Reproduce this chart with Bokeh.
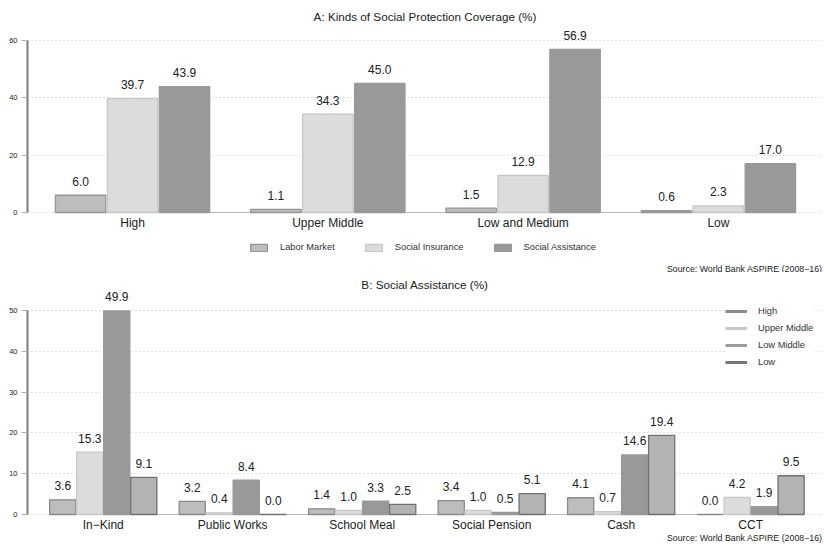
from bokeh.plotting import figure
from bokeh.models import (Range1d, FixedTicker, ColumnDataSource, LabelSet,
                          Legend, LegendItem, Label)
from bokeh.core.properties import value
from bokeh.layouts import column
from bokeh.embed import file_html
from bokeh.resources import INLINE

FONT = "Liberation Sans"

# ---------------- data ----------------
a_title = "A: Kinds of Social Protection Coverage (%)"
a_groups = ["High", "Upper Middle", "Low and Medium", "Low"]
a_series = ["Labor Market", "Social Insurance", "Social Assistance"]
a_labor = [6.0, 1.1, 1.5, 0.6]
a_insurance = [39.7, 34.3, 12.9, 2.3]
a_assistance = [43.9, 45.0, 56.9, 17.0]
a_yticks = [0, 20, 40, 60]

b_title = "B: Social Assistance (%)"
b_groups = ["In\u2212Kind", "Public Works", "School Meal", "Social Pension", "Cash", "CCT"]
b_series = ["High", "Upper Middle", "Low Middle", "Low"]
b_high = [3.6, 3.2, 1.4, 3.4, 4.1, 0.0]
b_upper = [15.3, 0.4, 1.0, 1.0, 0.7, 4.2]
b_lowmid = [49.9, 8.4, 3.3, 0.5, 14.6, 1.9]
b_low = [9.1, 0.0, 2.5, 5.1, 19.4, 9.5]
b_yticks = [0, 10, 20, 30, 40, 50]

source_text = "Source: World Bank ASPIRE (2008\u221216)"

# styles
a_fill = ["#bdbdbd", "#dcdcdc", "#999999"]
a_line = ["#959595", "#c6c6c6", "#999999"]
b_fill = ["#bdbdbd", "#dcdcdc", "#999999", "#b3b3b3"]
b_line = ["#8a8a8a", "#c8c8c8", "#999999", "#707070"]
b_leg = ["#8c8c8c", "#c8c8c8", "#9c9c9c", "#767676"]


def base_fig(title, height, xr, yr, yticks, border_top):
    p = figure(width=824, height=height, x_range=xr, y_range=yr,
               output_backend="svg", toolbar_location=None,
               min_border_left=27, min_border_right=2,
               min_border_top=border_top, min_border_bottom=0)
    p.outline_line_color = None
    p.title.text = title
    p.title.align = "center"
    p.title.text_font = FONT
    p.title.text_font_size = "11.7px"
    p.title.text_font_style = "normal"
    p.title.text_color = "#222222"
    p.title.standoff = 1
    p.xgrid.grid_line_color = None
    p.ygrid.grid_line_color = "#c4c4c4"
    p.ygrid.grid_line_dash = "1 3"
    p.ygrid.ticker = FixedTicker(ticks=yticks)
    ya = p.yaxis[0]
    ya.ticker = FixedTicker(ticks=yticks)
    ya.bounds = (yticks[0], yticks[-1])
    ya.axis_line_color = "#7a7a7a"
    ya.axis_line_width = 2
    ya.major_tick_line_color = "#b0b0b0"
    ya.major_tick_out = 6
    ya.major_tick_in = 0
    ya.minor_tick_line_color = None
    ya.major_label_text_font = FONT
    ya.major_label_text_font_size = "7.5px"
    ya.major_label_text_color = "#222222"
    ya.major_label_standoff = 4
    p.xaxis.visible = False
    return p


def draw_bars(p, groups, series_vals, fills, lines, width, cat_offset):
    n = len(series_vals)
    ng = len(groups)
    renderers = []
    # baseline from first bar to last bar
    p.segment(x0=[-(n / 2) * width], x1=[(ng - 1) + (n / 2) * width],
              y0=[0], y1=[0], line_color="#b8b8b8", line_width=1)
    for k, vals in enumerate(series_vals):
        off = (k - (n - 1) / 2) * width
        xs = [i + off for i in range(ng)]
        src = ColumnDataSource(dict(x=xs, top=vals, lab=[f"{v:.1f}" for v in vals]))
        r = p.vbar(x="x", top="top", bottom=0, width=width * 0.97, source=src,
                   fill_color=fills[k], line_color=lines[k], line_width=1.3)
        renderers.append(r)
        p.add_layout(LabelSet(x="x", y="top", text="lab", source=src,
                              text_align="center", text_baseline="middle",
                              y_offset=14, text_font=value(FONT),
                              text_font_size="12px", text_color="#222222"))
    # category labels
    csrc = ColumnDataSource(dict(x=list(range(ng)), y=[0] * ng, t=groups))
    p.add_layout(LabelSet(x="x", y="y", text="t", source=csrc,
                          text_align="center", text_baseline="middle",
                          y_offset=cat_offset, text_font=value(FONT),
                          text_font_size="12px", text_color="#222222"))
    return renderers


def add_source(p, yoff):
    p.add_layout(Label(x=p.x_range.end, y=p.y_range.start, text=source_text,
                       text_align="right", text_baseline="middle",
                       y_offset=yoff, text_font=FONT, text_font_size="8.8px",
                       text_color="#222222"))


# ---------------- panel A ----------------
pa = base_fig(a_title, 272, Range1d(-0.538, 3.533), Range1d(-20.93, 65.9),
              a_yticks, 23)
ra = draw_bars(pa, a_groups, [a_labor, a_insurance, a_assistance],
               a_fill, a_line, 0.266, -11)
leg_a = Legend(items=[LegendItem(label=s, renderers=[r]) for s, r in zip(a_series, ra)],
               orientation="horizontal", location=(221, 20),
               glyph_width=21, glyph_height=9, label_standoff=11, spacing=28,
               label_text_font=FONT, label_text_font_size="9.3px",
               label_text_color="#333333", border_line_color=None,
               padding=4, margin=0, label_height=9)
pa.add_layout(leg_a)
add_source(pa, 4)

# ---------------- panel B ----------------
pb = base_fig(b_title, 273, Range1d(-0.585, 5.555), Range1d(-7.6, 54.66),
              b_yticks, 19)
rb = draw_bars(pb, b_groups, [b_high, b_upper, b_lowmid, b_low],
               b_fill, b_line, 0.2085, -11)
nan = float("nan")
leg_r = [pb.line(x=[nan], y=[nan], line_color=c, line_width=3) for c in b_leg]
leg_b = Legend(items=[LegendItem(label=s, renderers=[r]) for s, r in zip(b_series, leg_r)],
               location=(698, 177), glyph_width=22, glyph_height=12,
               label_standoff=11, spacing=5, label_text_font=FONT,
               label_text_font_size="9.3px", label_text_color="#333333",
               border_line_color=None, padding=6, margin=0, label_height=12)
pb.add_layout(leg_b)
add_source(pb, 8)

layout = column(pa, pb)
open("out.html", "w").write(file_html(layout, INLINE))
